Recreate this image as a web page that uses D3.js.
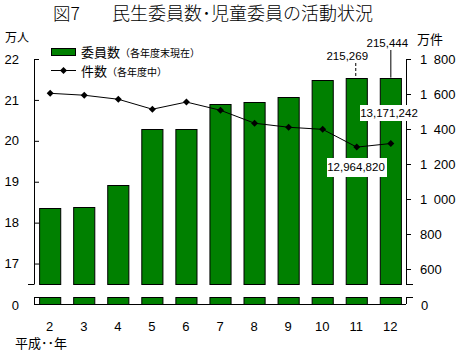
<!DOCTYPE html>
<html>
<head>
<meta charset="utf-8">
<script src="https://cdn.jsdelivr.net/npm/d3@7"></script>
<style>
  body { margin: 0; background: #fff; }
  svg { display: block; }
  text { font-family: "Liberation Sans", "Noto Sans CJK JP", sans-serif; fill: #000; }
  .jp { font-family: "Noto Sans CJK JP", sans-serif; }
</style>
</head>
<body>
<div id="okvir"></div>
<script>
// 平成 年
const years = [2, 3, 4, 5, 6, 7, 8, 9, 10, 11, 12];
// 委員数 (万人, 各年度末現在)
const iinsu = [18.35, 18.37, 18.92, 20.28, 20.30, 20.90, 20.96, 21.06, 21.48, 21.5269, 21.5444];
// 件数 (万件, 各年度中)
const kensu = [1604, 1593, 1570, 1513, 1554, 1507, 1433, 1410, 1398, 1296.482, 1317.1242];
const leftTicks = [17, 18, 19, 20, 21, 22];
const rightTicks = [600, 800, 1000, 1200, 1400, 1600, 1800];

function crtaj() {
    var width = 458, height = 353;
    var left = 34, right = 406;
    var top = 59, breakY = 284, lowTop = 297, base = 304;

    var svg = d3.select("#okvir").append("svg")
        .attr("width", width)
        .attr("height", height);

    var x = d3.scaleBand()
        .domain(years)
        .range([left, right])
        .paddingInner(0.38)
        .paddingOuter(0.15);

    var yL = d3.scaleLinear().domain([16.5, 22]).range([breakY, top]);
    var yR = d3.scaleLinear().domain([514.3, 1800]).range([breakY, top]);

    var data = years.map((y, i) => ({ year: y, iin: iinsu[i], ken: kensu[i] }));

    // stupci - gornji dio
    svg.append("g").selectAll("rect")
        .data(data)
        .enter().append("rect")
        .attr("x", d => x(d.year) + 0.5)
        .attr("y", d => Math.round(yL(d.iin)) + 0.5)
        .attr("width", x.bandwidth())
        .attr("height", d => breakY - Math.round(yL(d.iin)))
        .attr("fill", "#008000")
        .attr("stroke", "#000")
        .attr("stroke-width", 1);

    // stupci - donji dio (ispod prekida)
    svg.append("g").selectAll("rect")
        .data(data)
        .enter().append("rect")
        .attr("x", d => x(d.year) + 0.5)
        .attr("y", lowTop + 0.5)
        .attr("width", x.bandwidth())
        .attr("height", base - lowTop)
        .attr("fill", "#008000")
        .attr("stroke", "#000")
        .attr("stroke-width", 1);

    // lijeva os
    var axL = svg.append("g")
        .attr("transform", "translate(" + left + ",0)")
        .call(d3.axisLeft(yL).tickValues(leftTicks).tickFormat(d3.format("d"))
            .tickSizeInner(-5).tickSizeOuter(0).tickPadding(15));
    axL.selectAll("text").style("font-size", "13px");
    axL.selectAll("line, path").attr("stroke", "#000");

    // desna os
    var fmt = d => d >= 1000 ? Math.floor(d / 1000) + "\u2002" + String(d % 1000).padStart(3, "0") : String(d);
    var axR = svg.append("g")
        .attr("transform", "translate(" + right + ",0)")
        .call(d3.axisRight(yR).tickValues(rightTicks).tickSize(5).tickSizeOuter(0).tickPadding(9).tickFormat(fmt));
    axR.selectAll("text").style("font-size", "13px");
    axR.selectAll("line, path").attr("stroke", "#000");

    // x os
    var axX = svg.append("g")
        .attr("transform", "translate(0," + base + ")")
        .call(d3.axisBottom(x).tickSize(0).tickPadding(18));
    axX.selectAll("text").style("font-size", "13px");
    axX.select(".domain").attr("stroke", "#000").attr("d", "M" + left + ",0.5H" + right);

    // oznake prekida osi
    var brk = svg.append("g").attr("stroke", "#000").attr("shape-rendering", "crispEdges");
    brk.append("line").attr("x1", left - 6).attr("x2", left).attr("y1", breakY + 0.5).attr("y2", breakY + 0.5);
    brk.append("line").attr("x1", left + 0.5).attr("x2", left + 0.5).attr("y1", lowTop).attr("y2", base);
    brk.append("line").attr("x1", left).attr("x2", left + 6).attr("y1", lowTop + 0.5).attr("y2", lowTop + 0.5);
    brk.append("line").attr("x1", right).attr("x2", right + 7).attr("y1", breakY + 0.5).attr("y2", breakY + 0.5);
    brk.append("line").attr("x1", right + 0.5).attr("x2", right + 0.5).attr("y1", lowTop).attr("y2", base);
    brk.append("line").attr("x1", right).attr("x2", right + 7).attr("y1", lowTop + 0.5).attr("y2", lowTop + 0.5);

    svg.append("text").attr("x", 19).attr("y", base + 6).attr("text-anchor", "end")
        .style("font-size", "13px").text("0");
    svg.append("text").attr("x", right + 15).attr("y", base + 6)
        .style("font-size", "13px").text("0");

    // linija
    var line = d3.line()
        .x(d => x(d.year) + x.bandwidth() / 2 + 0.5)
        .y(d => yR(d.ken));
    svg.append("path")
        .datum(data)
        .attr("d", line)
        .attr("fill", "none")
        .attr("stroke", "#000")
        .attr("stroke-width", 1);

    var diamond = "M0,-3.5L3.5,0L0,3.5L-3.5,0Z";
    svg.append("g").selectAll("path")
        .data(data)
        .enter().append("path")
        .attr("d", diamond)
        .attr("transform", d => "translate(" + (x(d.year) + x.bandwidth() / 2 + 0.5) + "," + yR(d.ken) + ")")
        .attr("fill", "#000");

    // naslov
    svg.append("text").attr("class", "jp").attr("x", 53).attr("y", 20)
        .style("font-size", "17.5px").style("font-weight", 300).text("図7");
    svg.append("text").attr("class", "jp").attr("x", 112).attr("y", 20)
        .style("font-size", "18px").style("font-weight", 300).text("民生委員数･児童委員の活動状況");

    // jedinice osi
    svg.append("text").attr("class", "jp").attr("x", 5).attr("y", 42)
        .style("font-size", "12px").text("万人");
    svg.append("text").attr("class", "jp").attr("x", 417).attr("y", 44)
        .style("font-size", "13px").text("万件");
    svg.append("text").attr("class", "jp").attr("x", 15).attr("y", 348)
        .style("font-size", "13px").text("平成･･年");

    // legenda
    svg.append("rect").attr("x", 51.5).attr("y", 48.5).attr("width", 24).attr("height", 7)
        .attr("fill", "#008000").attr("stroke", "#000");
    var t1 = svg.append("text").attr("class", "jp").attr("x", 81).attr("y", 56.5).style("font-size", "13px");
    t1.append("tspan").text("委員数");
    t1.append("tspan").style("font-size", "10px").text("（各年度末現在）");

    svg.append("line").attr("x1", 51).attr("x2", 76).attr("y1", 70.5).attr("y2", 70.5).attr("stroke", "#000");
    svg.append("path").attr("d", diamond).attr("transform", "translate(63.5,70.5)").attr("fill", "#000");
    var t2 = svg.append("text").attr("class", "jp").attr("x", 81).attr("y", 75.5).style("font-size", "13px");
    t2.append("tspan").text("件数");
    t2.append("tspan").style("font-size", "10px").text("（各年度中）");

    // oznake vrijednosti
    var d11 = data[9], d12 = data[10];
    var cx = d => x(d.year) + x.bandwidth() / 2;

    svg.append("line")
        .attr("x1", cx(d11) - 1 + 0.5).attr("x2", cx(d11) - 1 + 0.5)
        .attr("y1", 63).attr("y2", yL(d11.iin))
        .attr("stroke", "#000").attr("stroke-dasharray", "3,2");
    svg.append("text").attr("x", cx(d11) - 9).attr("y", 60).attr("text-anchor", "middle")
        .style("font-size", "11.5px").text("215,269");

    svg.append("line")
        .attr("x1", cx(d12) + 0.5).attr("x2", cx(d12) + 0.5)
        .attr("y1", 50).attr("y2", yL(d12.iin))
        .attr("stroke", "#000");
    svg.append("text").attr("x", cx(d12) - 3).attr("y", 47).attr("text-anchor", "middle")
        .style("font-size", "11.5px").text("215,444");

    // bijele kutije
    svg.append("rect").attr("x", 360).attr("y", 105).attr("width", 57).attr("height", 16).attr("fill", "#fff");
    svg.append("text").attr("x", 389).attr("y", 117).attr("text-anchor", "middle")
        .style("font-size", "11.5px").text("13,171,242");

    svg.append("rect").attr("x", 327).attr("y", 158).attr("width", 60).attr("height", 19).attr("fill", "#fff");
    svg.append("text").attr("x", 356).attr("y", 171).attr("text-anchor", "middle")
        .style("font-size", "11.5px").text("12,964,820");
}
crtaj();
</script>
</body>
</html>
